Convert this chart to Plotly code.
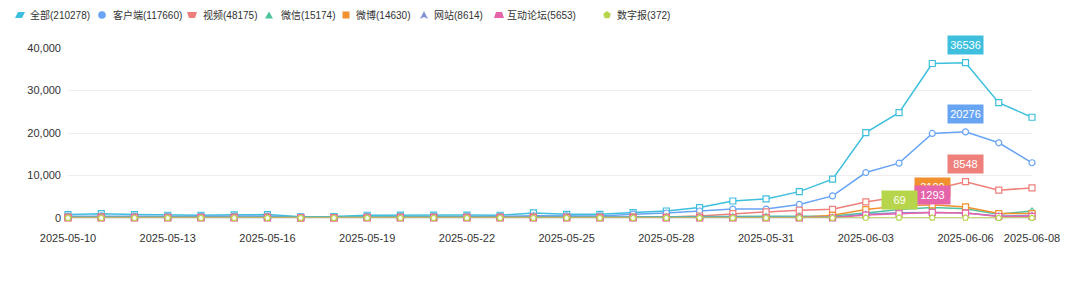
import plotly.graph_objects as go
import pandas as pd

# ---------------- data ----------------
dates = [d.strftime("%Y-%m-%d") for d in pd.date_range("2025-05-10", "2025-06-08")]

series_names = ["全部", "客户端", "视频", "微信", "微博", "网站", "互动论坛", "数字报"]
series_totals = [210278, 117660, 48175, 15174, 14630, 8614, 5653, 372]

v_all = [800, 1022, 800, 650, 650, 750, 800, 300, 350, 650, 700, 700, 700, 650, 1200,
         870, 870, 1270, 1650, 2450, 4000, 4480, 6200, 9130, 20100, 24800, 36350, 36536, 27150, 23700]
v_client = [420, 500, 420, 380, 380, 430, 450, 200, 220, 380, 400, 400, 400, 380, 534,
            480, 480, 900, 1180, 1650, 2100, 2100, 3200, 5200, 10700, 12900, 19900, 20276, 17700, 13000]
v_video = [200, 250, 200, 180, 170, 200, 210, 90, 100, 180, 190, 200, 200, 190, 300,
           230, 220, 250, 240, 470, 1030, 1420, 1820, 2050, 3780, 5000, 6637, 8548, 6540, 7080]
v_wechat = [190, 240, 200, 180, 180, 200, 210, 80, 90, 180, 190, 200, 200, 190, 260,
            220, 220, 230, 250, 280, 300, 330, 380, 480, 1200, 2000, 2500, 2200, 900, 1650]
v_weibo = [60, 70, 60, 55, 55, 60, 60, 30, 35, 55, 60, 60, 60, 55, 80,
           65, 65, 70, 70, 75, 80, 85, 90, 640, 1980, 2800, 3100, 2600, 1040, 1040]
v_web = [100, 120, 100, 95, 95, 100, 105, 50, 55, 95, 100, 100, 100, 95, 130,
         110, 110, 115, 120, 125, 130, 140, 150, 170, 900, 1250, 1280, 1200, 500, 600]
v_forum = [30, 35, 30, 28, 28, 30, 30, 15, 16, 28, 30, 30, 30, 28, 40,
           32, 32, 34, 35, 38, 40, 42, 45, 52, 700, 1000, 1293, 1150, 350, 400]
v_paper = [5, 6, 5, 4, 4, 5, 5, 2, 2, 4, 5, 5, 5, 4, 6,
           5, 5, 5, 5, 6, 6, 7, 12, 15, 40, 69, 50, 45, 20, 17]

series_values = [v_all, v_client, v_video, v_wechat, v_weibo, v_web, v_forum, v_paper]

# series whose peak label is visible in the chart (others are hidden behind)
labelled_series = ["全部", "客户端", "视频", "微博", "互动论坛", "数字报"]

x_tick_dates = dates[0:28:3] + [dates[-1]]
y_ticks = [0, 10000, 20000, 30000, 40000]

# ---------------- styles ----------------
colors = ["#3dbfdd", "#68a4f4", "#ee7f7b", "#4fc49c", "#f0902f", "#8191d8", "#e564aa", "#b7d54a"]
line_symbols = ["square", "circle", "square", "triangle-up", "square", "triangle-up", "square", "pentagon"]

# legend icon outlines, in pixels relative to the icon centre (y up)
legend_icon_paths = [
    "M-5,-3 L2,-3 L5,3 L-2,3 Z",          # parallelogram
    None,                                  # circle
    "M-5,3 L5,3 L3,-3 L-3,-3 Z",           # inverted trapezoid
    "M-4,-3.5 L4,-3.5 L0,3.5 Z",           # triangle
    "M-3.5,-3.5 L3.5,-3.5 L3.5,3.5 L-3.5,3.5 Z",  # square
    "M0,4 L4,-4 L0,-2 L-4,-4 Z",           # arrow
    "M-3,3 L3,3 L5,-3 L-5,-3 Z",           # trapezoid
    "M0,4 L3.8,1.2 L2.35,-3.2 L-2.35,-3.2 L-3.8,1.2 Z",  # pentagon
]

W, H = 1080, 283
ML, MR, MT, MB = 68, 48, 48, 65
PW, PH = W - ML - MR, H - MT - MB

legend_icon_x = [20, 102, 192, 269, 346, 424, 499, 607]
legend_text_x = [28, 111, 201, 279, 354, 432, 505, 615]
legend_y = 15


def px_to_paper_x(px):
    return (px - ML) / PW


def px_to_paper_y(py):
    return (H - MB - py) / PH


FONT = "Liberation Sans, Noto Sans CJK SC, sans-serif"

fig = go.Figure()

for name, vals, col, sym in zip(series_names, series_values, colors, line_symbols):
    fig.add_trace(go.Scatter(
        x=dates, y=vals, name=name, mode="lines+markers",
        line=dict(color=col, width=1.5),
        marker=dict(symbol=sym, size=6, color="white", line=dict(color=col, width=1.2)),
        cliponaxis=False, showlegend=False,
    ))

shapes = []
annotations = []
for name, total, col, ix, tx, path in zip(series_names, series_totals, colors,
                                          legend_icon_x, legend_text_x, legend_icon_paths):
    common = dict(xref="paper", yref="paper", xsizemode="pixel", ysizemode="pixel",
                  xanchor=px_to_paper_x(ix), yanchor=px_to_paper_y(legend_y),
                  fillcolor=col, line=dict(width=0), layer="above")
    if path is None:
        shapes.append(dict(type="circle", x0=-3.8, x1=3.8, y0=-3.8, y1=3.8, **common))
    else:
        shapes.append(dict(type="path", path=path, **common))
    annotations.append(dict(
        x=px_to_paper_x(tx), y=px_to_paper_y(legend_y), xref="paper", yref="paper",
        xanchor="left", yanchor="middle",
        text=f"{name}({total})", showarrow=False,
        font=dict(family=FONT, size=10, color="#333333"),
    ))

# peak value labels
for name, vals, col in zip(series_names, series_values, colors):
    if name not in labelled_series:
        continue
    i = max(range(len(vals)), key=lambda k: vals[k])
    annotations.append(dict(
        x=dates[i], y=vals[i], xref="x", yref="y", xanchor="center", yanchor="bottom",
        yshift=8, text=str(vals[i]), showarrow=False,
        bgcolor=col, borderpad=2, height=14, width=31,
        font=dict(family=FONT, size=11, color="white"),
    ))

fig.update_layout(
    width=W, height=H,
    margin=dict(l=ML, r=MR, t=MT, b=MB, pad=0),
    paper_bgcolor="white", plot_bgcolor="white",
    showlegend=False,
    shapes=shapes,
    annotations=annotations,
    font=dict(family=FONT, size=11, color="#333333"),
    xaxis=dict(
        type="category", range=[0, len(dates) - 1],
        tickmode="array", tickvals=x_tick_dates, ticktext=x_tick_dates,
        showgrid=False, showline=False, zeroline=False, ticks="",
        ticklabelstandoff=12,
        tickfont=dict(family=FONT, size=11, color="#333333"),
    ),
    yaxis=dict(
        range=[0, 40000], tickvals=y_ticks, tickformat=",d",
        showgrid=True, gridcolor="#eeeeee", gridwidth=1,
        zeroline=True, zerolinecolor="#e6e6e6", showline=False, ticks="",
        ticklabelstandoff=6,
        tickfont=dict(family=FONT, size=11, color="#333333"),
    ),
)

fig.write_html("out.html")
